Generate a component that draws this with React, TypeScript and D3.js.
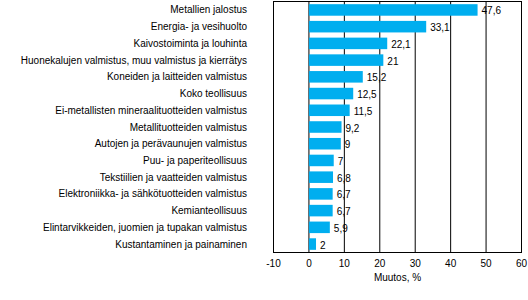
import React from "react";
import * as d3 from "d3";

const categories = [
  "Metallien jalostus",
  "Energia- ja vesihuolto",
  "Kaivostoiminta ja louhinta",
  "Huonekalujen valmistus, muu valmistus ja kierrätys",
  "Koneiden ja laitteiden valmistus",
  "Koko teollisuus",
  "Ei-metallisten mineraalituotteiden valmistus",
  "Metallituotteiden valmistus",
  "Autojen ja perävaunujen valmistus",
  "Puu- ja paperiteollisuus",
  "Tekstiilien ja vaatteiden valmistus",
  "Elektroniikka- ja sähkötuotteiden valmistus",
  "Kemianteollisuus",
  "Elintarvikkeiden, juomien ja tupakan valmistus",
  "Kustantaminen ja painaminen",
];
const values = [47.6, 33.1, 22.1, 21, 15.2, 12.5, 11.5, 9.2, 9, 7, 6.8, 6.7, 6.7, 5.9, 2];
const xTicks = [-10, 0, 10, 20, 30, 40, 50, 60];
const axisTitle = "Muutos, %";

const W = 528;
const H = 300;
const left = 273.5;
const right = 521.5;
const top = 1.5;
const bottom = 252.5;
const font = "'Liberation Sans', Arial, sans-serif";
const fs = 10;

export default function App() {
  const x = d3.scaleLinear().domain([-10, 60]).range([left, right]);
  const y = d3.scaleBand<string>().domain(categories).range([top, bottom]).paddingInner(0.31).paddingOuter(0.16);
  const fmt = (v: number) => String(v).replace(".", ",");
  return (
    <svg width={W} height={H} style={{ position: "absolute", left: 0, top: 0 }}>
      <rect x={0} y={0} width={W} height={H} fill="#fff" />
      {xTicks.slice(1, -1).map((t) => (
        <line key={t} x1={x(t)} x2={x(t)} y1={top} y2={bottom} stroke="#000" strokeWidth={1} />
      ))}
      {values.map((v, i) => (
        <rect
          key={i}
          x={x(0)}
          y={y(categories[i])!}
          width={x(v) - x(0)}
          height={y.bandwidth()}
          fill="#00AEEF"
        />
      ))}
      <rect x={left} y={top} width={right - left} height={bottom - top} fill="none" stroke="#000" strokeWidth={1} />
      {categories.map((c, i) => (
        <text
          key={c}
          x={247}
          y={y(c)! + y.bandwidth() / 2}
          dy="0.35em"
          textAnchor="end"
          fontFamily={font}
          fontSize={fs}
          fill="#000"
        >
          {c}
        </text>
      ))}
      {values.map((v, i) => (
        <text
          key={i}
          x={x(v) + 4}
          y={y(categories[i])! + y.bandwidth() / 2 + 1}
          dy="0.35em"
          fontFamily={font}
          fontSize={fs}
          fill="#000"
        >
          {fmt(v)}
        </text>
      ))}
      {xTicks.map((t) => (
        <text
          key={t}
          x={x(t)}
          y={263}
          dy="0.35em"
          textAnchor="middle"
          fontFamily={font}
          fontSize={fs}
          fill="#000"
        >
          {t}
        </text>
      ))}
      <text
        x={(left + right) / 2}
        y={277}
        dy="0.35em"
        textAnchor="middle"
        fontFamily={font}
        fontSize={fs}
        fill="#000"
      >
        {axisTitle}
      </text>
    </svg>
  );
}
